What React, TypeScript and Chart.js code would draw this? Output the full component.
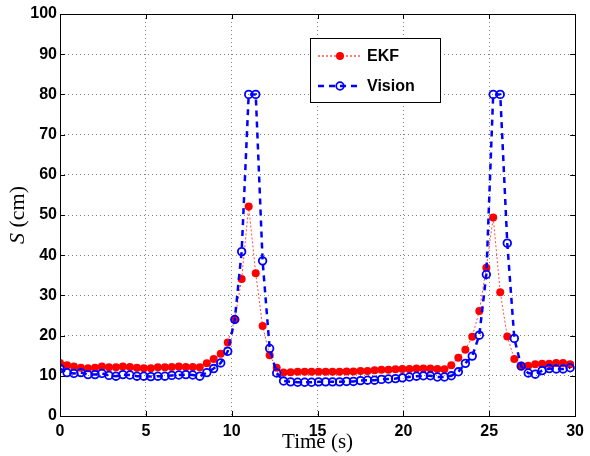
import { useEffect, useRef } from "react";
import { Chart, registerables } from "chart.js";

Chart.register(...registerables);

const times = [
  0, 0.41, 0.81, 1.22, 1.63, 2.04, 2.44, 2.85, 3.26, 3.66, 4.07, 4.48, 4.88, 5.29, 5.7, 6.11, 6.51, 6.92, 7.33,
  7.73, 8.14, 8.55, 8.95, 9.36, 9.77, 10.18, 10.58, 10.99, 11.4, 11.8, 12.21, 12.62, 13.02, 13.43, 13.84, 14.25,
  14.65, 15.06, 15.47, 15.87, 16.28, 16.69, 17.09, 17.5, 17.91, 18.32, 18.72, 19.13, 19.54, 19.94, 20.35, 20.76,
  21.16, 21.57, 21.98, 22.39, 22.79, 23.2, 23.61, 24.01, 24.42, 24.83, 25.23, 25.64, 26.05, 26.46, 26.86, 27.27,
  27.68, 28.08, 28.49, 28.9, 29.3, 29.71,
];

const ekf = [
  13.2, 12.6, 12.3, 12.0, 11.9, 12.0, 12.3, 12.1, 12.1, 12.3, 12.2, 12.0, 11.9, 11.9, 12.1, 12.1, 12.2, 12.3, 12.2,
  12.2, 12.1, 13.1, 14.2, 15.5, 18.3, 24.0, 34.1, 52.1, 35.5, 22.4, 15.1, 12.0, 10.8, 10.9, 11.0, 11.0, 11.0, 11.0,
  11.0, 11.0, 11.0, 11.1, 11.1, 11.2, 11.2, 11.4, 11.5, 11.5, 11.6, 11.7, 11.7, 11.8, 11.8, 11.8, 11.7, 11.6, 12.6,
  14.5, 16.5, 19.7, 26.1, 36.9, 49.4, 30.8, 19.8, 14.2, 12.5, 12.5, 12.9, 13.0, 13.0, 13.2, 13.2, 12.9,
];

const vision = [
  11.8, 10.8, 10.6, 10.8, 10.3, 10.3, 10.6, 10.1, 9.9, 10.3, 10.2, 9.9, 9.9, 9.8, 9.9, 9.9, 10.1, 10.2, 10.3, 10.2,
  9.9, 10.8, 11.8, 13.2, 16.1, 24.0, 40.9, 80, 80, 38.6, 16.8, 10.7, 8.7, 8.5, 8.4, 8.4, 8.4, 8.5, 8.5, 8.5, 8.5, 8.6,
  8.6, 8.8, 8.9, 8.9, 9.1, 9.2, 9.3, 9.5, 9.7, 9.9, 10.0, 10.0, 9.7, 9.7, 10.0, 11.0, 13.1, 14.9, 20.1, 35.2, 80, 80,
  43.0, 19.3, 12.4, 10.7, 10.4, 11.3, 11.8, 11.7, 11.7, 12.0,
];

const xTicks = [0, 5, 10, 15, 20, 25, 30];
const yTicks = [0, 10, 20, 30, 40, 50, 60, 70, 80, 90, 100];
const seriesNames = ["EKF", "Vision"];
const xTitle = "Time (s)";
const yTitleVar = "S";
const yTitleUnit = " (cm)";

const RED = "#ff0000";
const BLUE = "#0000ff";
const TICK_FONT = "bold 16px 'Liberation Sans', Arial, sans-serif";
const SERIF = "'Liberation Serif', 'Times New Roman', serif";

export default function App() {
  const ref = useRef<HTMLCanvasElement | null>(null);

  useEffect(() => {
    document.body.style.margin = "0";
    const canvas = ref.current;
    if (!canvas) return;

    const decor = {
      id: "decor",
      afterDatasetsDraw(chart: any) {
        const { ctx, chartArea: a, scales } = chart;
        ctx.save();
        ctx.strokeStyle = "#000";
        ctx.lineWidth = 1;
        ctx.setLineDash([]);
        ctx.strokeRect(Math.round(a.left) + 0.5, Math.round(a.top) + 0.5, Math.round(a.right - a.left), Math.round(a.bottom - a.top));
        ctx.beginPath();
        const L = 5;
        for (const v of xTicks) {
          const px = Math.round(scales.x.getPixelForValue(v)) + 0.5;
          ctx.moveTo(px, a.bottom);
          ctx.lineTo(px, a.bottom - L);
          ctx.moveTo(px, a.top);
          ctx.lineTo(px, a.top + L);
        }
        for (const v of yTicks) {
          const py = Math.round(scales.y.getPixelForValue(v)) + 0.5;
          ctx.moveTo(a.left, py);
          ctx.lineTo(a.left + L, py);
          ctx.moveTo(a.right, py);
          ctx.lineTo(a.right - L, py);
        }
        ctx.stroke();

        ctx.fillStyle = "#000";
        ctx.font = `21px ${SERIF}`;
        ctx.textAlign = "center";
        ctx.textBaseline = "alphabetic";
        ctx.fillText(xTitle, (a.left + a.right) / 2, 448);

        ctx.save();
        ctx.translate(24, (a.top + a.bottom) / 2);
        ctx.rotate(-Math.PI / 2);
        ctx.textAlign = "left";
        ctx.font = `italic 22px ${SERIF}`;
        const w1 = ctx.measureText(yTitleVar).width;
        ctx.font = `22px ${SERIF}`;
        const w2 = ctx.measureText(yTitleUnit).width;
        const start = -(w1 + w2) / 2;
        ctx.font = `italic 22px ${SERIF}`;
        ctx.fillText(yTitleVar, start, 0);
        ctx.font = `22px ${SERIF}`;
        ctx.fillText(yTitleUnit, start + w1, 0);
        ctx.restore();

        const lx = 310.5, ly = 38.5, lw = 130, lh = 64;
        ctx.fillStyle = "#fff";
        ctx.fillRect(lx, ly, lw, lh);
        ctx.strokeStyle = "#000";
        ctx.lineWidth = 1;
        ctx.strokeRect(lx, ly, lw, lh);

        const rows = [
          { y: 56, color: RED, dash: [2, 2], width: 1, filled: true },
          { y: 86, color: BLUE, dash: [6, 5], width: 2.5, filled: false },
        ];
        rows.forEach((r, i) => {
          ctx.save();
          ctx.strokeStyle = r.color;
          ctx.lineWidth = r.width;
          ctx.setLineDash(r.dash);
          ctx.beginPath();
          ctx.moveTo(318, r.y);
          ctx.lineTo(362, r.y);
          ctx.stroke();
          ctx.setLineDash([]);
          ctx.beginPath();
          ctx.arc(340, r.y, r.filled ? 4 : 3.8, 0, Math.PI * 2);
          if (r.filled) {
            ctx.fillStyle = r.color;
            ctx.fill();
          } else {
            ctx.lineWidth = 1.8;
            ctx.stroke();
          }
          ctx.restore();
          ctx.fillStyle = "#000";
          ctx.font = TICK_FONT;
          ctx.textAlign = "left";
          ctx.textBaseline = "middle";
          ctx.fillText(seriesNames[i], 367, r.y + 1);
        });
        ctx.restore();
      },
    };

    const chart = new Chart(canvas, {
      type: "line",
      data: {
        datasets: [
          {
            label: seriesNames[1],
            data: times.map((t, i) => ({ x: t, y: vision[i] })),
            borderColor: BLUE,
            borderWidth: 2.5,
            borderDash: [6, 5],
            pointRadius: 3.8,
            pointBorderWidth: 1.8,
            pointBorderColor: BLUE,
            pointBackgroundColor: "rgba(0,0,0,0)",
            tension: 0,
            order: 1,
          },
          {
            label: seriesNames[0],
            data: times.map((t, i) => ({ x: t, y: ekf[i] })),
            borderColor: "rgba(255,0,0,0.7)",
            borderWidth: 1,
            borderDash: [2, 2],
            pointRadius: 4,
            pointBorderWidth: 0,
            pointBackgroundColor: RED,
            pointBorderColor: RED,
            tension: 0,
            order: 2,
          },
        ],
      },
      options: {
        responsive: false,
        animation: false,
        events: [],
        layout: { padding: { top: 14, right: 9, left: 0, bottom: 0 } },
        plugins: { legend: { display: false }, tooltip: { enabled: false }, title: { display: false } },
        scales: {
          x: {
            type: "linear",
            min: 0,
            max: 30,
            afterFit: (s: any) => {
              s.height = 40;
            },
            afterBuildTicks: (s: any) => {
              s.ticks = xTicks.map((v) => ({ value: v }));
            },
            ticks: { color: "#000", font: { family: "'Liberation Sans', Arial, sans-serif", size: 16, weight: "bold" }, padding: 6, maxRotation: 0 },
            grid: { color: "rgba(0,0,0,0.5)", lineWidth: 1, drawTicks: false },
            border: { display: false, dash: [1, 3] },
          },
          y: {
            type: "linear",
            min: 0,
            max: 100,
            afterFit: (s: any) => {
              s.width = 60;
            },
            afterBuildTicks: (s: any) => {
              s.ticks = yTicks.map((v) => ({ value: v }));
            },
            ticks: { color: "#000", font: { family: "'Liberation Sans', Arial, sans-serif", size: 16, weight: "bold" }, padding: 3 },
            grid: { color: "rgba(0,0,0,0.5)", lineWidth: 1, drawTicks: false },
            border: { display: false, dash: [1, 3] },
          },
        },
      },
      plugins: [decor],
    });
    return () => chart.destroy();
  }, []);

  return <canvas ref={ref} width={590} height={456} style={{ display: "block" }} />;
}
